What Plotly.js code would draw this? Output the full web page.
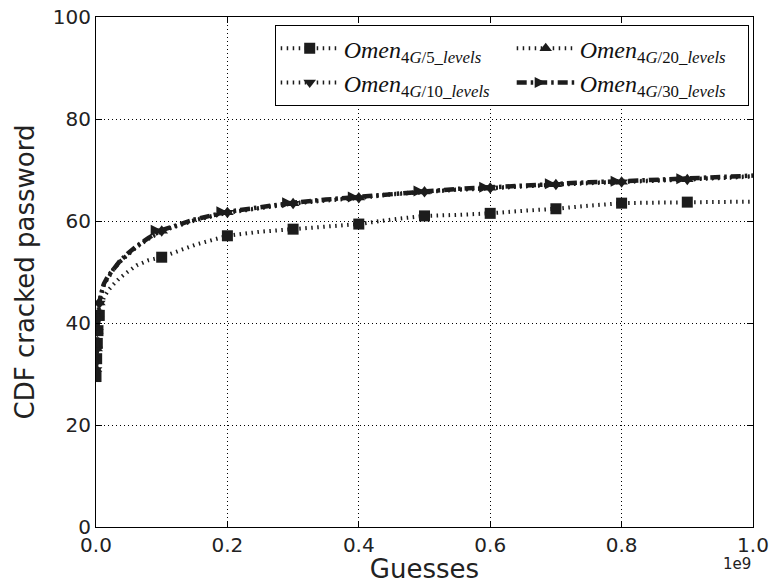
<!DOCTYPE html>
<html>
<head>
<meta charset="utf-8">
<script src="https://cdn.plot.ly/plotly-3.0.1.min.js"></script>
<style>html,body{margin:0;padding:0;background:#fff;}#chart{width:775px;height:584px;}</style>
</head>
<body>
<div id="chart"></div>
<script>
// Guesses in units of 1e9
const guesses = [0, 0.001, 0.002, 0.003, 0.005, 0.008, 0.012, 0.018, 0.026, 0.036, 0.048, 0.062, 0.08, 0.1, 0.15, 0.2, 0.25, 0.3, 0.35, 0.4, 0.45, 0.5, 0.55, 0.6, 0.65, 0.7, 0.75, 0.8, 0.85, 0.9, 0.95, 1.0];
// 1 = a marker is drawn at this point
const markedPoints = [1, 1, 1, 1, 1, 0, 0, 0, 0, 0, 0, 0, 0, 1, 0, 1, 0, 1, 0, 1, 0, 1, 0, 1, 0, 1, 0, 1, 0, 1, 0, 0];

const omen5 = [29.5, 33.0, 36.0, 38.5, 41.5, 43.5, 45.0, 46.3, 47.5, 48.8, 50.0, 51.3, 52.3, 52.9, 55.3, 57.1, 57.9, 58.4, 58.9, 59.4, 60.3, 61.0, 61.2, 61.5, 62.0, 62.4, 63.0, 63.5, 63.6, 63.7, 63.75, 63.8];
const omen10 = [30.8, 34.8, 38.3, 40.8, 43.8, 45.9, 47.5, 48.9, 50.4, 51.9, 53.4, 54.9, 56.5, 58.0, 60.1, 61.6, 62.5, 63.4, 64.0, 64.5, 65.2, 65.7, 66.1, 66.4, 66.8, 67.1, 67.4, 67.6, 67.9, 68.1, 68.4, 68.7];
const omen20 = [31.0, 35.0, 38.5, 41.0, 44.0, 46.0, 47.6, 49.0, 50.5, 52.0, 53.5, 55.0, 56.6, 58.1, 60.2, 61.7, 62.6, 63.5, 64.1, 64.6, 65.3, 65.8, 66.2, 66.5, 66.9, 67.2, 67.5, 67.7, 68.0, 68.2, 68.5, 68.8];
const omen30 = [31.2, 35.2, 38.6, 41.1, 44.1, 46.1, 47.7, 49.1, 50.6, 52.1, 53.6, 55.1, 56.7, 58.2, 60.3, 61.8, 62.7, 63.6, 64.2, 64.7, 65.4, 65.9, 66.3, 66.6, 67.0, 67.3, 67.6, 67.8, 68.1, 68.3, 68.6, 68.9];

const seriesNames = ['4G/5_levels', '4G/10_levels', '4G/20_levels', '4G/30_levels'];
const xTickVals = [0, 0.2, 0.4, 0.6, 0.8, 1.0];
const xTickText = ['0.0', '0.2', '0.4', '0.6', '0.8', '1.0'];
const yTickVals = [0, 20, 40, 60, 80, 100];

const ink = '#1c1c1c';
const markerColors = markedPoints.map(m => m ? ink : 'rgba(0,0,0,0)');
const dotted = '1.5px,4.5px';
const dashDot = '10px,4px,2.5px,4px';

function label(s) {
  return '<i>Omen</i><sub>' + s.replace(/G/, '<i>G</i>').replace(/_levels/, '_<i>levels</i>') + '</sub>';
}

const traces = [
  {x: guesses, y: omen5, name: label(seriesNames[0]), legendrank: 1, mode: 'lines+markers',
   line: {color: ink, width: 4, dash: dotted}, marker: {symbol: 'square', size: 11, color: markerColors}},
  {x: guesses, y: omen10, name: label(seriesNames[1]), legendrank: 3, mode: 'lines+markers',
   line: {color: ink, width: 4, dash: dotted}, marker: {symbol: 'triangle-down', size: 11, color: markerColors}},
  {x: guesses, y: omen20, name: label(seriesNames[2]), legendrank: 2, mode: 'lines+markers',
   line: {color: ink, width: 4, dash: dotted}, marker: {symbol: 'triangle-up', size: 11, color: markerColors}},
  {x: guesses, y: omen30, name: label(seriesNames[3]), legendrank: 4, mode: 'lines+markers',
   line: {color: ink, width: 4.5, dash: dashDot}, marker: {symbol: 'arrow-right', size: 11, color: markerColors}}
];

const axisCommon = {
  showline: true, linecolor: '#000', linewidth: 1, mirror: 'ticks',
  ticks: 'inside', ticklen: 6, tickcolor: '#000', tickwidth: 1,
  showgrid: true, gridcolor: '#000', gridwidth: 1, griddash: '1px,3px',
  zeroline: false,
  tickfont: {family: 'DejaVu Sans', size: 20, color: '#222'}
};

const layout = {
  width: 775, height: 584,
  margin: {l: 96, r: 22, t: 17, b: 57, autoexpand: false},
  paper_bgcolor: '#fff', plot_bgcolor: '#fff',
  showlegend: true,
  xaxis: Object.assign({}, axisCommon, {
    range: [0, 1], tickvals: xTickVals, ticktext: xTickText,
    title: {text: 'Guesses', font: {family: 'DejaVu Sans', size: 26, color: '#222'}, standoff: 4}
  }),
  yaxis: Object.assign({}, axisCommon, {
    range: [0, 100], tickvals: yTickVals,
    title: {text: 'CDF cracked password', font: {family: 'DejaVu Sans', size: 26, color: '#222'}, standoff: 10}
  }),
  legend: {
    orientation: 'h', x: 0.272, y: 0.984, xanchor: 'left', yanchor: 'top',
    entrywidth: 163, traceorder: 'normal',
    bgcolor: '#fff', bordercolor: '#000', borderwidth: 1,
    font: {family: 'Liberation Serif', size: 24, color: '#111'},
    itemwidth: 58
  },
  annotations: [{
    text: '1e9', xref: 'paper', yref: 'paper', x: 0.975, y: -0.05, xanchor: 'center', yanchor: 'top',
    showarrow: false, font: {family: 'DejaVu Sans', size: 15, color: '#222'}
  }]
};

Plotly.newPlot('chart', traces, layout, {displayModeBar: false, staticPlot: true});
</script>
</body>
</html>
